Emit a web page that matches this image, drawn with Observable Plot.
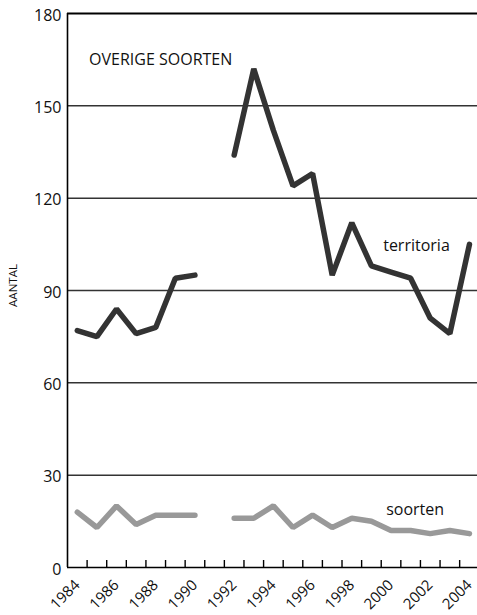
<!DOCTYPE html>
<html>
<head>
<meta charset="utf-8">
<script src="https://cdn.jsdelivr.net/npm/d3@7"></script>
<script src="https://cdn.jsdelivr.net/npm/@observablehq/plot@0.6"></script>
<style>
  html, body { margin: 0; padding: 0; background: #fff; }
  svg { display: block; }
</style>
</head>
<body>
<div id="chart"></div>
<script>
const years = [1984,1985,1986,1987,1988,1989,1990,1991,1992,1993,1994,1995,1996,1997,1998,1999,2000,2001,2002,2003,2004];
const territoria = [77,75,84,76,78,94,95,NaN,134,162,142,124,128,95,112,98,96,94,81,76,105];
const soorten    = [18,13,20,14,17,17,17,NaN,16,16,20,13,17,13,16,15,12,12,11,12,11];
const yTicks = [0,30,60,90,120,150,180];
const gridValues = [30,60,90,120,150];
const xLabelYears = [1984,1986,1988,1990,1992,1994,1996,1998,2000,2002,2004];
const tickYears = [1984.5,1985.5,1986.5,1987.5,1988.5,1989.5,1990.5,1991.5,1992.5,1993.5,1994.5,1995.5,1996.5,1997.5,1998.5,1999.5,2000.5,2001.5,2002.5,2003.5];
const xDomain = [1983.5, 2004.41];
const labelText = ["OVERIGE SOORTEN", "territoria", "soorten"];
const labelX = [1984.6, 1999.6, 1999.75];
const labelY = [165, 104.6, 18.6];
const yTitle = "AANTAL";

const terrData = years.map((y, i) => ({year: y, value: territoria[i]}));
const soortData = years.map((y, i) => ({year: y, value: soorten[i]}));
const labels = labelText.map((t, i) => ({text: t, x: labelX[i], y: labelY[i]}));

const font = "'Open Sans', 'Liberation Sans', sans-serif";

const chart = Plot.plot({
  width: 477,
  height: 615,
  marginTop: 13,
  marginBottom: 48,
  marginLeft: 67,
  marginRight: 0,
  style: {fontFamily: font, color: "#111", background: "#fff"},
  x: {domain: xDomain, axis: null},
  y: {domain: [0, 180], axis: null},
  marks: [
    Plot.ruleY(gridValues, {stroke: "#333", strokeWidth: 1.5}),
    Plot.ruleY([180], {stroke: "#000", strokeWidth: 2}),
    Plot.ruleY([0], {stroke: "#000", strokeWidth: 1.6}),
    Plot.ruleX([xDomain[0]], {stroke: "#000", strokeWidth: 1.6}),
    Plot.ruleX(tickYears, {y1: 0, y2: 0, insetTop: -7, stroke: "#000", strokeWidth: 1.4}),
    Plot.line(soortData, {x: "year", y: "value", stroke: "#999", strokeWidth: 5.5, strokeLinejoin: "miter", strokeLinecap: "round"}),
    Plot.line(terrData, {x: "year", y: "value", stroke: "#333", strokeWidth: 5.5, strokeLinejoin: "miter", strokeLinecap: "round"}),
    Plot.text(yTicks, {x: xDomain[0], y: d => d, text: d => String(d), textAnchor: "end", dx: -6, dy: 2, fontSize: 16, fill: "#111"}),
    Plot.text(xLabelYears, {x: d => d, y: 0, text: d => String(d), rotate: -45, textAnchor: "end", dx: 0, dy: 15, fontSize: 15, fill: "#111"}),
    Plot.text(labels, {x: "x", y: "y", text: "text", textAnchor: "start", fontSize: 16, fill: "#111"}),
    Plot.text([yTitle], {frameAnchor: "left", textAnchor: "middle", rotate: -90, dx: -54, dy: -5, fontSize: 11.5, fill: "#111"})
  ]
});
document.getElementById("chart").appendChild(chart);
</script>
</body>
</html>
